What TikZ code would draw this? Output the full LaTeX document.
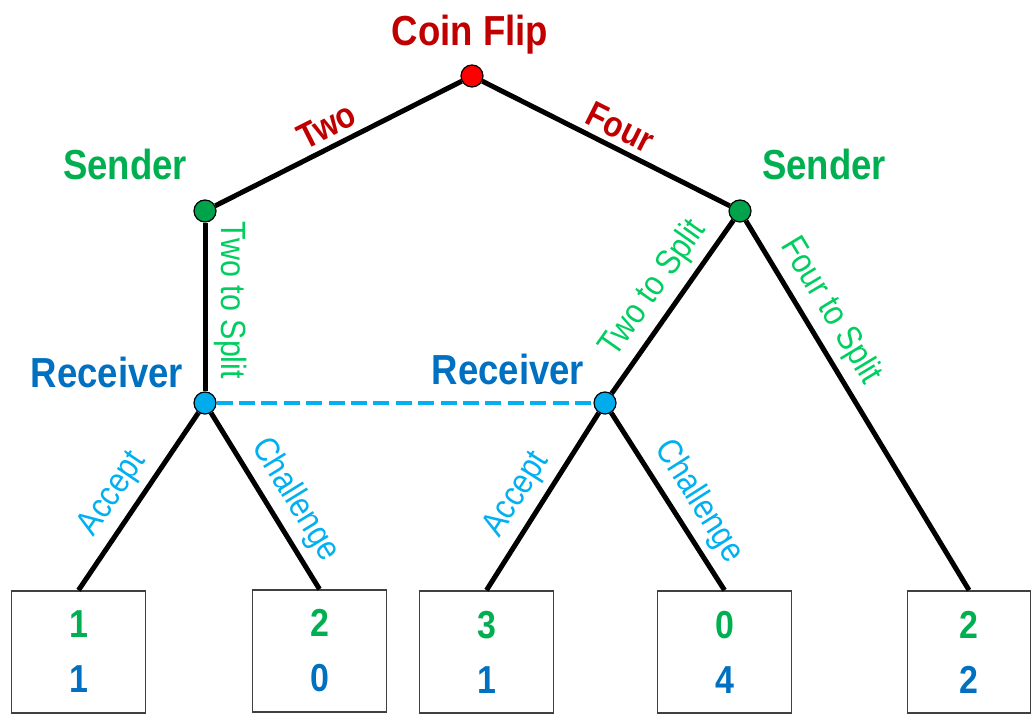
\documentclass[tikz,border=0pt]{standalone}
\usepackage{fontspec}
\setmainfont[FakeStretch=0.87]{Liberation Sans}
\usepackage{tikz}
\usetikzlibrary{positioning}
\definecolor{CoinRed}{RGB}{192,0,0}
\definecolor{ChanceFill}{RGB}{255,0,0}
\definecolor{SendGreen}{RGB}{0,176,80}
\definecolor{SendFill}{RGB}{0,162,76}
\definecolor{SplitGreen}{RGB}{0,206,96}
\definecolor{RecvBlue}{RGB}{0,112,192}
\definecolor{ActBlue}{RGB}{0,176,240}
\definecolor{RecvFill}{RGB}{0,172,236}

\begin{document}
\begin{tikzpicture}[
  x=0.5pt, y=-0.5pt,
  dec/.style={circle, draw=black, line width=0.6pt, inner sep=0pt, minimum size=11pt},
  branch/.style={line width=2.5pt, black},
  infoset/.style={line width=2pt, ActBlue, dash pattern=on 8pt off 3.2pt},
  player/.style={font=\fontsize{21}{25}\selectfont\bfseries, anchor=base},
  choice/.style={font=\fontsize{18}{21}\selectfont\bfseries, text=CoinRed, sloped, above, inner sep=3pt},
  move/.style={font=\fontsize{17.5}{21}\selectfont, sloped, above, inner sep=3.5pt},
  payoff/.style={rectangle, draw=black!75, line width=0.8pt, minimum width=67pt, minimum height=61pt,
                 align=center, font=\fontsize{19.5}{27.5}\selectfont\bfseries}
]
\useasboundingbox (0,0) rectangle (1031,715);

% decision points
\node[dec, fill=ChanceFill] (flip) at (472,76) {};
\node[dec, fill=SendFill] (sendL) at (205,211) {};
\node[dec, fill=SendFill] (sendR) at (740,211) {};
\node[dec, fill=RecvFill] (recvL) at (205,403) {};
\node[dec, fill=RecvFill] (recvR) at (605,403) {};

% outcomes (sender on top, receiver below)
\node[payoff] (out1) at (78.5,652) {{\color{SendGreen}1}\\{\color{RecvBlue}1}};
\node[payoff] (out2) at (319.5,651) {{\color{SendGreen}2}\\{\color{RecvBlue}0}};
\node[payoff] (out3) at (486.5,652) {{\color{SendGreen}3}\\{\color{RecvBlue}1}};
\node[payoff] (out4) at (724.5,652) {{\color{SendGreen}0}\\{\color{RecvBlue}4}};
\node[payoff, minimum width=61.5pt] (out5) at (969,652) {{\color{SendGreen}2}\\{\color{RecvBlue}2}};

% who moves where
\node[player, text=CoinRed] (flipLbl) at (470,46) {Coin Flip};
\node[player, text=SendGreen] (sendLLbl) at (125,180) {Sender};
\node[player, text=SendGreen] (sendRLbl) at (824,180) {Sender};
\node[player, text=RecvBlue] (recvLLbl) at (107,387) {Receiver};
\node[player, text=RecvBlue] (recvRLbl) at (508,385) {Receiver};

% branches
\draw[branch] (sendL) -- node[choice, pos=0.49] {Two} (flip);
\draw[branch] (flip) -- node[choice, pos=0.52] {Four} (sendR);
\draw[branch] (sendL) -- node[move, sloped=false, rotate=-90, anchor=south, text=SplitGreen, pos=0.46] {Two to Split} (recvL);
\draw[branch] (recvR) -- node[move, text=SplitGreen, pos=0.52] {Two to Split} (sendR);
\draw[branch] (sendR) -- node[move, text=SplitGreen, pos=0.28] {Four to Split} (out5.north);
\draw[branch] (out1.north) -- node[move, text=ActBlue, pos=0.46] {Accept} (recvL);
\draw[branch] (recvL) -- node[move, text=ActBlue, pos=0.57] {Challenge} (out2.north);
\draw[branch] (out3.north) -- node[move, text=ActBlue, pos=0.46] {Accept} (recvR);
\draw[branch] (recvR) -- node[move, text=ActBlue, pos=0.58] {Challenge} (out4.north);

% receiver cannot tell the two nodes apart
\draw[infoset] (recvL) -- (recvR);
\end{tikzpicture}
\end{document}
